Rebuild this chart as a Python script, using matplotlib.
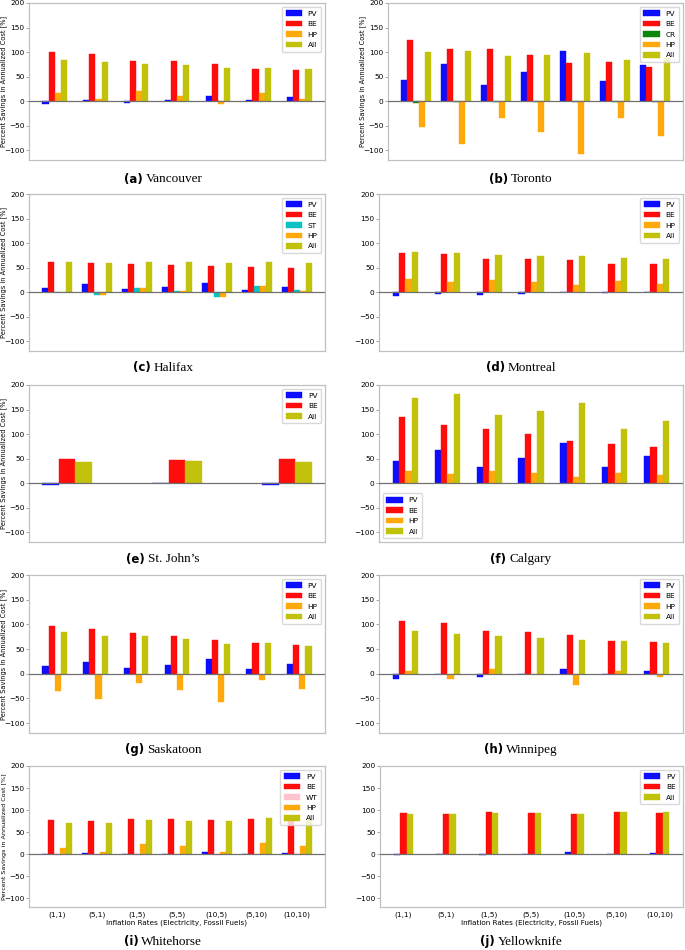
import matplotlib
matplotlib.use("Agg")
import matplotlib.pyplot as plt
import numpy as np

# inflation rate scenarios (electricity, fossil fuels)
rates = ['(1,1)', '(5,1)', '(1,5)', '(5,5)', '(10,5)', '(5,10)', '(10,10)']
rates_stjohns = ['(1,1)', '(5,5)', '(10,10)']

colors = {'PV': 'blue', 'BE': 'red', 'CR': 'green', 'ST': 'c',
          'WT': 'pink', 'HP': 'orange', 'All': 'y'}

# percent savings in annualized cost [%]
vancouver = {
    'PV': [-6, 2, -3, 2, 10, 3, 8],
    'BE': [101, 96, 82, 81, 75, 65, 63],
    'HP': [17, 5, 20, 11, -5, 17, 5],
    'All': [83, 79, 75, 73, 68, 67, 65],
}
toronto = {
    'PV': [43, 76, 33, 59, 102, 40, 73],
    'BE': [124, 107, 106, 95, 77, 79, 69],
    'CR': [-3, -2, -2, -1, -1, -1, -1],
    'HP': [-52, -87, -34, -63, -108, -35, -71],
    'All': [100, 102, 91, 94, 98, 83, 87],
}
halifax = {
    'PV': [9, 16, 6, 10, 18, 5, 10],
    'BE': [62, 60, 57, 56, 53, 52, 50],
    'ST': [1, -6, 8, 3, -9, 12, 4],
    'HP': [0, -6, 8, 3, -9, 12, 3],
    'All': [61, 60, 61, 61, 59, 61, 60],
}
montreal = {
    'PV': [-7, -4, -5, -3, 1, -1, 1],
    'BE': [79, 78, 68, 67, 66, 58, 57],
    'HP': [26, 20, 25, 21, 14, 22, 17],
    'All': [81, 80, 75, 73, 73, 69, 67],
}
stjohns = {
    'PV': [-4, 0, -4],
    'BE': [50, 48, 50],
    'All': [44, 46, 44],
}
calgary = {
    'PV': [46, 67, 33, 51, 81, 33, 55],
    'BE': [134, 119, 110, 101, 85, 80, 73],
    'HP': [25, 19, 25, 21, 13, 21, 17],
    'All': [173, 181, 139, 147, 163, 111, 126],
}
saskatoon = {
    'PV': [16, 24, 11, 17, 29, 10, 19],
    'BE': [97, 91, 82, 76, 69, 63, 58],
    'HP': [-35, -51, -19, -33, -57, -12, -30],
    'All': [85, 77, 76, 70, 60, 63, 56],
}
winnipeg = {
    'PV': [-10, -1, -7, -1, 10, 0, 6],
    'BE': [107, 102, 87, 85, 78, 67, 64],
    'HP': [5, -10, 9, -1, -22, 6, -6],
    'All': [87, 81, 77, 73, 68, 66, 63],
}
whitehorse = {
    'PV': [0, 2, 0, 1, 4, 1, 2],
    'BE': [78, 76, 80, 79, 77, 80, 78],
    'WT': [-2, -2, -2, 0, -1, 0, 0],
    'HP': [15, 5, 23, 18, 4, 26, 18],
    'All': [71, 71, 77, 76, 76, 81, 80],
}
yellowknife = {
    'PV': [-2, 1, -1, 1, 4, 0, 2],
    'BE': [94, 92, 96, 94, 90, 96, 93],
    'All': [90, 90, 93, 93, 92, 95, 95],
}

W, H = 685, 950
fig = plt.figure(figsize=(W / 100, H / 100), dpi=100)

# (letter, city, data, categories, axes box in px (l, t, r, b), ylabel x px or None, legend loc, caption y)
panels = [
    ('a', 'Vancouver', vancouver, rates, (29, 3, 325, 160), 7, 'upper right', 179),
    ('b', 'Toronto', toronto, rates, (388, 3, 683, 160), 366, 'upper right', 179),
    ('c', 'Halifax', halifax, rates, (29, 194, 325, 351), 7, 'upper right', 368),
    ('d', 'Montreal', montreal, rates, (379, 194, 683, 351), None, 'upper right', 368),
    ('e', 'St. John\u2019s', stjohns, rates_stjohns, (29, 385, 325, 542), 7, 'upper right', 559),
    ('f', 'Calgary', calgary, rates, (379, 385, 683, 542), None, 'lower left', 559),
    ('g', 'Saskatoon', saskatoon, rates, (29, 575, 325, 733), 7, 'upper right', 750),
    ('h', 'Winnipeg', winnipeg, rates, (379, 575, 683, 733), None, 'upper right', 750),
    ('i', 'Whitehorse', whitehorse, rates, (29, 766, 325, 907), 7, 'upper right', 942),
    ('j', 'Yellowknife', yellowknife, rates, (380, 766, 683, 907), None, 'upper right', 942),
]

width = 0.15
captions = []
for letter, city, data, cats, box, ylab_x, loc, cap_y in panels:
    l, t, r, b = box
    ax = fig.add_axes([l / W, 1 - b / H, (r - l) / W, (b - t) / H])
    x = np.arange(len(cats))
    n = len(data)
    for i, (name, vals) in enumerate(data.items()):
        ax.bar(x + (i - (n - 1) / 2) * width, vals, width, color=colors[name],
               label=name, edgecolor=colors[name], linewidth=0.3, alpha=0.95)
    ax.axhline(0, color='#707070', lw=0.9, zorder=3)
    ax.set_ylim(-120, 200)
    ax.set_yticks([-100, -50, 0, 50, 100, 150, 200])
    ax.tick_params(axis='y', labelsize=5.3, length=2, width=0.5, color='#808080', pad=1.2)
    ax.tick_params(axis='x', length=0, labelsize=5.3, pad=3)
    ax.set_xticks(x)
    if letter in ('i', 'j'):
        ax.set_xticklabels(cats)
        ax.set_xlabel('Inflation Rates (Electricity, Fossil Fuels)', fontsize=5.2, labelpad=1)
    else:
        ax.set_xticklabels([])
    if ylab_x is not None:
        fs = 4.6 if letter == 'i' else 4.8
        ax.set_ylabel('Percent Savings in Annualized Cost [%]', fontsize=fs)
        ax.yaxis.set_label_coords((ylab_x - l) / (r - l), 0.5)
    for s in ax.spines.values():
        s.set_color('#c0c0c0')
        s.set_linewidth(0.9)
    ax.legend(loc=loc, fontsize=5.3, framealpha=0.8, edgecolor='#d0d0d0',
              handlelength=2.2, handleheight=0.8, borderpad=0.5, labelspacing=0.55,
              handletextpad=0.8)

    cx = (163 if l < 340 else 521) / W
    cy = 1 - cap_y / H
    t1 = fig.text(cx, cy, f'({letter})', fontsize=8.5, fontweight='bold',
                  family='DejaVu Sans', ha='left', va='center')
    t2 = fig.text(cx, cy, city, fontsize=9.5, family='Liberation Serif',
                  ha='left', va='center')
    captions.append((cx, t1, t2))

# centre the two-font captions
fig.canvas.draw()
rend = fig.canvas.get_renderer()
for cx, t1, t2 in captions:
    w1 = t1.get_window_extent(rend).width / W
    w2 = t2.get_window_extent(rend).width / W
    gap = 3 / W
    x0 = cx - (w1 + gap + w2) / 2
    t1.set_x(x0)
    t2.set_x(x0 + w1 + gap)

fig.savefig('out.png', dpi=100)
